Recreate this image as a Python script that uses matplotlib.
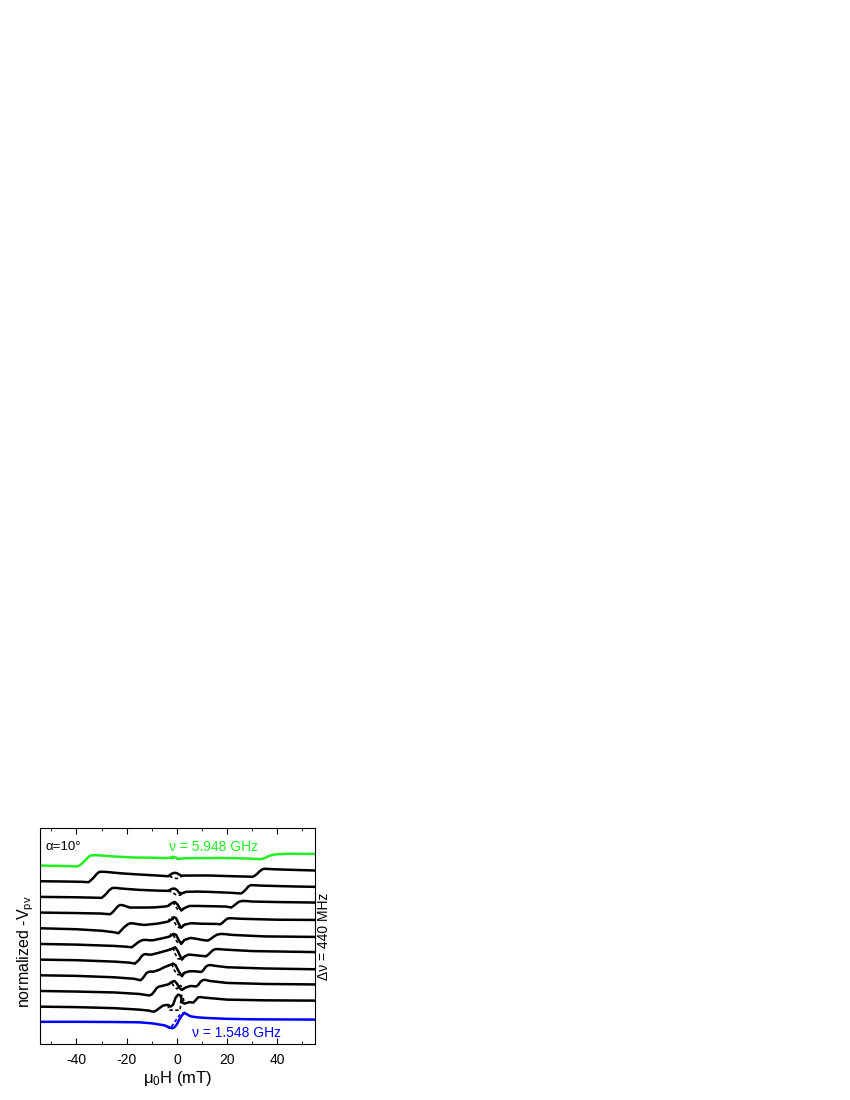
import numpy as np
import matplotlib
matplotlib.use("Agg")
import matplotlib.pyplot as plt
from matplotlib.ticker import MultipleLocator

plt.rcParams['font.family'] = ['Liberation Sans', 'DejaVu Sans']
plt.rcParams['mathtext.fontset'] = 'custom'
plt.rcParams['mathtext.rm'] = 'Liberation Sans'
plt.rcParams['mathtext.it'] = 'Liberation Sans:italic'
plt.rcParams['mathtext.default'] = 'regular'
plt.rcParams['axes.unicode_minus'] = False

# frequencies (GHz), bottom to top
freqs = [1.548, 1.988, 2.428, 2.868, 3.308, 3.748, 4.188, 4.628, 5.068, 5.508, 5.948]

# solid sweep: field (mT) and signal (a.u.); dashed = other sweep near zero field
h_1548 = [-55, -40, -25, -15, -10, -5, -3, -2, -1, 0, 1, 2, 3, 4, 5.4, 8, 12, 19.6, 30, 55]
v_1548 = [0.5, 0.5, 0.3, 0, -1, -3, -5, -6, -5, -2, 3, 7, 9.5, 8, 6, 5, 4.3, 3.5, 3, 2.7]
dh_1548 = [-4, -3, -2.5, -1.5, 0, 1, 2, 3]
dv_1548 = [-4.2, -6, -5.5, -2, 3.5, 7, 9, 9.5]

h_1988 = [-55, -40, -25, -15, -11, -10, -9, -8, -7, -6, -5.5, -4.5, -3.5, -2.5, -1.5, -0.5, 0.5,
          1.5, 2.2, 3, 5, 6.5, 7.5, 8.5, 9.5, 11, 20, 35, 55]
v_1988 = [0, -0.5, -1.5, -3, -4, -4.8, -5, -3.5, -1.5, 0.3, 1, 1.6, 1.7, 0, 2, 9, 12,
          11, 4, 3, 4.5, 4, 6.5, 9.4, 9.5, 9, 7, 6.3, 6]
dh_1988 = [-3.5, -3.2, 1.3, 1.7, 2.3, 3]
dv_1988 = [1.7, -3.5, -3.5, 11, 11, 3]

h_2428 = [-55, -40, -25, -15, -11, -10, -9, -8, -7, -6, -3.3, -2, -1, 0, 1, 2, 3.5, 5.5,
          7.7, 8.5, 9.5, 10.5, 11.5, 13, 20, 35, 55]
v_2428 = [0, -0.6, -1.5, -3, -4.5, -3.5, -0.5, 3, 4.5, 5, 6.7, 9, 10, 7.5, 3, 1, 3.5, 5,
          4.5, 6, 9.5, 11, 11, 10, 8, 7, 6.5]
dh_2428 = [-3.3, -2.3, -1.3, 0, 0.8, 1.5, 2.2, 3.5]
dv_2428 = [6.7, 9.5, 5, 2, 5, 5.5, 2, 3.5]

h_2868 = [-55, -40, -25, -17, -14.5, -13.8, -13, -12.2, -11.4, -10.5, -9.4, -7, -4.8, -2.5, -1.5,
          -0.5, 0.7, 2, 3, 5, 7, 9.7, 10.5, 11.5, 12.5, 13.5, 15, 20, 35, 55]
v_2868 = [0, -0.6, -2, -3.5, -5, -3.5, -1, 2, 3.3, 3.7, 3.6, 5.5, 8.3, 10.5, 11.7,
          10, 4, -1, 2.5, 4, 4, 3.3, 5, 8.5, 10, 10.2, 9.5, 8, 6.8, 6]
dh_2868 = [-4, -3, -2, -1, 0, 1, 2, 3]
dv_2868 = [8.5, 11, 11, 5, 1, 0.5, 1.5, 2.5]

h_3308 = [-55, -40, -25, -19, -16.7, -15.8, -15, -14, -13.2, -12.3, -11.5, -10, -7, -2.6, -0.7, 0.3,
          1.2, 2, 3, 4.6, 7, 9.5, 11.6, 12.5, 13.5, 14.5, 15.5, 16.5, 19, 30, 55]
v_3308 = [0, -0.6, -2, -3, -4, -2, 0, 3.5, 5.2, 5.5, 5, 5, 7, 10, 12.3, 9,
          4, 0, 3, 5, 4.5, 3.8, 3.3, 5, 7.5, 9.7, 10.5, 10.5, 10, 8.5, 7.5]
dh_3308 = [-3.5, -2.3, -1.5, -0.7, 0.3, 1.2, 2.5, 3.5]
dv_3308 = [9, 12, 11.5, 6, 1, 0.5, 2.5, 4]

h_3748 = [-55, -40, -25, -20, -18, -17, -15.5, -14.5, -13.4, -12, -11, -9.4, -6, -3, -1.3, -0.3,
          0.7, 1.7, 3, 5.5, 8, 10.5, 12.3, 13.5, 14.5, 16, 17.6, 19, 22, 35, 55]
v_3748 = [0, -0.7, -2, -2.8, -3.4, -1.5, 1.5, 3, 4, 4, 3.6, 3.7, 5.5, 7.3, 10, 9,
          4, 0, 4, 6, 5, 3.8, 3.3, 5, 7, 9.3, 10, 9.8, 9, 7.5, 7]
dh_3748 = [-3, -2.3, -1.5, -0.7, 0.5, 1.7, 3]
dv_3748 = [7.3, 10, 9.5, 5, 0.5, 1, 4]

h_4188 = [-55, -40, -30, -25, -23.3, -22.5, -21, -19.5, -18.5, -17, -15.5, -13, -8, -3.5, -2, -1.3,
          -0.3, 0.6, 1.7, 3, 5.5, 10, 15.6, 17.3, 18.2, 19, 20, 20.9, 22.5, 25, 40, 55]
v_4188 = [0, -1, -2.5, -4, -5, -3, 1, 4, 5, 4.7, 4, 3.3, 4.5, 6.6, 9, 11,
          10, 5, 0.5, 3.5, 5, 4.5, 4.3, 4, 5.5, 7.5, 9.5, 10, 9.9, 9.5, 8.5, 8.3]
dh_4188 = [-3.5, -2.8, -2, -1, 0, 1, 2.5, 3.5]
dv_4188 = [6.6, 10, 11, 6, 2, 0.5, 3, 4]

h_4628 = [-55, -40, -30, -26.6, -25.5, -24.5, -23.5, -22.7, -21.5, -20.5, -18.7, -13, -8.7, -5, -3.5,
          -2, -0.8, 0.3, 1.7, 3, 5, 8, 14, 19.6, 21.6, 22.5, 23.5, 24.7, 26, 27.5, 30, 40, 55]
v_4628 = [0, -0.5, -1, -1.7, 0.5, 3.5, 6.2, 7.6, 7.3, 6.5, 5, 5, 5.2, 6, 6.6,
          9.5, 10.6, 8, 2, 4.5, 6.6, 6.6, 6.3, 6, 5, 6.5, 8.5, 10.8, 11.6, 11.5, 11, 10.5, 10]
dh_4628 = [-3.5, -2.3, -1.5, -0.5, 0.5, 1.7, 3]
dv_4628 = [6.6, 10, 10, 6, 2.5, 2.5, 4.5]

h_5068 = [-55, -40, -33, -30, -29, -28, -27, -26, -25.3, -24, -22, -15, -8, -3.5, -2, -1, 0,
          1, 2, 3.5, 8, 12.8, 18, 22, 25.5, 26.5, 27.5, 28.5, 29.5, 31, 33, 45, 55]
v_5068 = [0, -0.4, -0.8, -1, 1, 3.5, 6.5, 8.5, 9, 8.9, 8.3, 7, 6.3, 6, 8, 8.4, 7,
          4, 3.5, 5, 5.3, 5, 4.5, 4, 3.4, 5, 7.5, 10.5, 11.7, 11.6, 11.3, 10.5, 10]
dh_5068 = [-3.5, -2, -1, 0, 1.3, 2.5, 3.5]
dv_5068 = [6, 5, 3, 1.7, 1.7, 3.5, 5]

h_5508 = [-55, -45, -38, -35.2, -34.2, -33, -32, -31.2, -30.6, -29, -27, -22, -15, -8, -3.5, -2, -1,
          0, 1, 2, 3, 8, 12.8, 22, 28, 30.2, 31, 32, 33, 34, 34.7, 36, 38, 45, 55]
v_5508 = [0, -0.3, -0.6, -1, 1, 4, 7, 8.8, 9.4, 9.4, 9, 7.8, 6.7, 5.7, 5, 7.5, 8.4,
          8, 6.5, 5.5, 5.6, 5.7, 5.7, 5, 4.6, 4.4, 5.5, 7.5, 10, 11.8, 12.4, 12.3, 12, 11.4, 10.7]
dh_5508 = [-3, -2, -1, 0, 1, 2, 3]
dv_5508 = [5, 4, 3, 2.7, 3.5, 5, 5.6]

h_5948 = [-55, -48, -42, -40, -39, -38, -37, -36, -35, -34.4, -33, -31, -25, -17, -10, -4, -2.5, -1.6,
          -0.5, 0.8, 2, 4, 9, 16, 22.5, 28, 33, 34, 35, 36, 37, 38.5, 40, 41, 45, 50, 55]
v_5948 = [0, -0.3, -0.7, -1, -0.2, 1.5, 4, 6.5, 9, 10, 10.3, 10.2, 9, 8, 7.8, 7.4, 8, 8.7,
          8, 6.6, 7, 7.4, 7.4, 7.5, 7.4, 7, 6.4, 6.6, 7.5, 8.8, 9.8, 10.8, 11.3, 11.4, 11.8, 11.6, 11.7]
dh_5948 = [-2.5, -1.5, -0.5, 0.8, 2]
dv_5948 = [7.8, 7, 6.2, 6.3, 7]

solid = [(h_1548, v_1548), (h_1988, v_1988), (h_2428, v_2428), (h_2868, v_2868),
         (h_3308, v_3308), (h_3748, v_3748), (h_4188, v_4188), (h_4628, v_4628),
         (h_5068, v_5068), (h_5508, v_5508), (h_5948, v_5948)]
dashed = [(dh_1548, dv_1548), (dh_1988, dv_1988), (dh_2428, dv_2428), (dh_2868, dv_2868),
          (dh_3308, dv_3308), (dh_3748, dv_3748), (dh_4188, dv_4188), (dh_4628, dv_4628),
          (dh_5068, dv_5068), (dh_5508, dv_5508), (dh_5948, dv_5948)]

step = 15.66  # vertical offset between traces

fig = plt.figure(figsize=(8.5, 11), dpi=100)
ax = fig.add_axes([0.0465, 0.0506, 0.3241, 0.1966])

for i, f in enumerate(freqs):
    if i == 0:
        col = '#0000ff'
    elif i == len(freqs) - 1:
        col = '#22ee22'
    else:
        col = 'black'
    off = i * step
    h, v = solid[i]
    ax.plot(h, np.array(v) + off, color=col, lw=1.8, solid_joinstyle='round')
    dh, dv = dashed[i]
    ax.plot(dh, np.array(dv) + off, color=col, lw=1.2, ls=(0, (2, 1.5)))

ax.set_xlim(-54.7, 55)
ax.set_ylim(-22, 194)
ax.xaxis.set_major_locator(MultipleLocator(20))
ax.xaxis.set_minor_locator(MultipleLocator(10))
ax.set_yticks([])
ax.tick_params(axis='x', which='both', direction='in', top=True, labelsize=10, pad=6)
ax.tick_params(axis='x', which='major', length=4)
ax.tick_params(axis='x', which='minor', length=2.5)
for s in ax.spines.values():
    s.set_linewidth(0.8)

ax.set_xlabel('μ$_0$H (mT)', fontsize=12, labelpad=2)
ax.set_ylabel('normalized -V$_{pv}$', fontsize=11.5)
ax.yaxis.set_label_coords(-0.012, 0.43)

ax.text(-52.3, 175.3, 'α=10°', fontsize=9.5, ha='left', va='center')
ax.text(14.5, 175.6, 'ν = 5.948 GHz', fontsize=10, color='#22ee22', ha='center', va='center')
ax.text(23.8, -11, 'ν = 1.548 GHz', fontsize=10, color='#0000ff', ha='center', va='center')
ax.text(1.032, 0.5, 'Δν = 440 MHz', fontsize=10, rotation=90, ha='center', va='center',
        transform=ax.transAxes)

fig.savefig('out.png', dpi=100)
